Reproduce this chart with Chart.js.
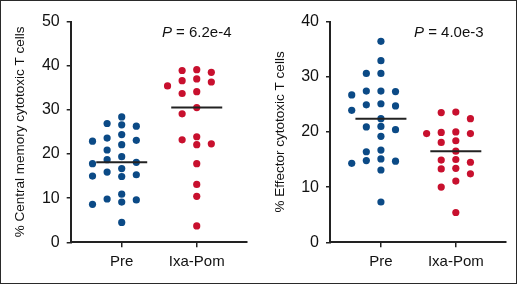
<!DOCTYPE html>
<html>
<head>
<meta charset="utf-8">
<script src="https://cdn.jsdelivr.net/npm/chart.js@4/dist/chart.umd.min.js"></script>
<style>
  html,body{margin:0;padding:0;background:#fff;}
  #wrap{position:relative;width:520px;height:286px;background:#fff;}
  #wrap canvas{position:absolute;top:0;}
  #frame{position:absolute;left:0;top:0;width:517px;height:284px;box-sizing:border-box;border:1.5px solid #2a2a2a;pointer-events:none;}
</style>
</head>
<body>
<div id="wrap">
  <canvas id="cmChart" width="260" height="286" style="left:0"></canvas>
  <canvas id="effChart" width="260" height="286" style="left:260px"></canvas>
  <div id="frame"></div>
</div>
<script>
const categories = ["Pre", "Ixa-Pom"];

// % central memory cytotoxic T cells
const cmPre = [26.9,23.6,18.7,16.7,14.9,9.8, 26.3,23.1,19.4,15.0,10.9,9.1,
  28.4,26.6,22.9,20.9,17.8,15.3,8.6, 24.4,22.1,18.1,15.9,9.6, 4.5];
const cmIxa = [38.5,38.9,39.1,37.0,36.6,36.3,35.4,33.7,34.1,30.5,29.1,
  23.2,22.1,23.9,22.3,17.8,13.1,10.4,3.7];

// % effector cytotoxic T cells
const effPre = [36.4,32.9,30.6,30.6,27.4,27.4,27.3,26.7,24.9,25.1,24.7,23.9,
  22.4,21.0,20.4,20.9,19.2,16.4,16.7,15.1,14.3,14.8,14.7,13.1,7.3];
const effIxa = [23.6,23.5,22.4,20.0,19.7,19.9,19.7,18.1,18.4,16.5,15.0,14.9,
  14.5,13.4,13.3,12.4,11.1,10.0,5.4];

const cmTicks = [0,10,20,30,40,50];
const effTicks = [0,10,20,30,40];
const pCm = "6.2e-4";
const pEff = "4.0e-3";

const BLUE = "#0b4a86";
const RED = "#c8102e";
const INK = "#222";
const FONT = "'Liberation Sans', Arial, sans-serif";

function median(a){
  const s = [...a].sort((x,y)=>x-y);
  const m = Math.floor(s.length/2);
  return s.length%2 ? s[m] : (s[m-1]+s[m])/2;
}

// p value text, italic P
const pLabel = {
  id:"pLabel",
  afterDraw(chart, args, opts){
    const c = chart.ctx, x = chart.scales.x, y = chart.scales.y;
    const cx = x.getPixelForValue(2) + (opts.dx||0);
    const cy = y.getPixelForValue(y.max) + 11;
    c.save();
    c.fillStyle = "#111";
    c.textBaseline = "middle";
    c.font = "italic 15px " + FONT;
    const wP = c.measureText("P").width;
    c.font = "15px " + FONT;
    const rest = " = " + opts.text;
    const wR = c.measureText(rest).width;
    let left = cx - (wP+wR)/2;
    c.font = "italic 15px " + FONT;
    c.fillText("P", left, cy);
    c.font = "15px " + FONT;
    c.fillText(rest, left+wP, cy);
    c.restore();
  }
};

function makeChart(id, pre, ixa, ticks, title, pText, axisW, padRight, pdx){
  const yMax = ticks[ticks.length-1];
  return new Chart(document.getElementById(id), {
    type:"scatter",
    data:{
      datasets:[
        {type:"line", data:[], borderColor:INK, borderWidth:2, pointRadius:0, order:0},
        {type:"line", data:[], borderColor:INK, borderWidth:2, pointRadius:0, order:0},
        {data:pre.map(v=>({x:1,y:v})), backgroundColor:BLUE, borderWidth:0, pointRadius:3.6, order:1},
        {data:ixa.map(v=>({x:2,y:v})), backgroundColor:RED, borderWidth:0, pointRadius:3.6, order:1}
      ]
    },
    options:{
      responsive:false,
      animation:false,
      layout:{padding:{top:21.5, left:12, right:padRight, bottom:0}},
      plugins:{legend:{display:false}, tooltip:{enabled:false}, pLabel:{text:pText, dx:pdx}},
      scales:{
        x:{
          type:"linear", min:0.32, max:2.67,
          afterBuildTicks:s=>{ s.ticks = [{value:1},{value:2}]; },
          afterFit:s=>{ s.height = 286-242.3; },
          border:{display:true, color:INK, width:2},
          grid:{display:true, drawOnChartArea:false, drawTicks:true, tickLength:5, color:INK, lineWidth:1.5},
          ticks:{color:"#111", padding:6, font:{family:FONT, size:15},
            callback:v=>categories[v-1]}
        },
        y:{
          min:0, max:yMax,
          afterBuildTicks:s=>{ s.ticks = ticks.map(v=>({value:v})); },
          afterFit:s=>{ s.width = axisW; },
          border:{display:true, color:INK, width:2},
          grid:{display:true, drawOnChartArea:false, drawTicks:true, tickLength:4, color:INK, lineWidth:1.5},
          ticks:{color:"#111", padding:7, font:{family:FONT, size:16}},
          title:{display:true, text:title, color:"#111", padding:{top:0,bottom:0},
            font:{family:FONT, size:13.5}}
        }
      }
    },
    plugins:[pLabel]
  });
}

// beeswarm layout in pixel space, then back to data units
function swarm(values, chart, cx){
  const xs = chart.scales.x, ys = chart.scales.y;
  const pxPerX = xs.getPixelForValue(1) - xs.getPixelForValue(0);
  const step = 7.3, gapY = 7.6;
  const placed = [];
  const out = new Array(values.length);
  const idx = values.map((v,i)=>i).sort((a,b)=>values[b]-values[a]);
  idx.forEach(i=>{
    const py = ys.getPixelForValue(values[i]);
    for(let k=0;k<40;k++){
      const off = k===0 ? 0 : (k%2 ? -1 : 1)*Math.ceil(k/2)*step;
      const ok = placed.every(p=>Math.abs(p.x-off) >= 2*step-0.01 || Math.abs(p.y-py) >= gapY);
      if(ok){
        placed.push({x:off, y:py});
        out[i] = {x:cx + off/pxPerX, y:values[i]};
        break;
      }
    }
  });
  return out;
}

function finish(chart, pre, ixa){
  const xs = chart.scales.x;
  const half = 25.5/(xs.getPixelForValue(1) - xs.getPixelForValue(0));
  const mPre = median(pre), mIxa = median(ixa);
  const ds = chart.data.datasets;
  ds[0].data = [{x:1-half,y:mPre},{x:1+half,y:mPre}];
  ds[1].data = [{x:2-half,y:mIxa},{x:2+half,y:mIxa}];
  ds[2].data = swarm(pre, chart, 1);
  ds[3].data = swarm(ixa, chart, 2);
  chart.update("none");
}

const cmChart = makeChart("cmChart", cmPre, cmIxa, cmTicks,
  "% Central memory cytotoxic T cells", pCm, 58.7, 13, 0);
const effChart = makeChart("effChart", effPre, effIxa, effTicks,
  "% Effector cytotoxic T cells", pEff, 58, 14, -7);

finish(cmChart, cmPre, cmIxa);
finish(effChart, effPre, effIxa);
</script>
</body>
</html>
